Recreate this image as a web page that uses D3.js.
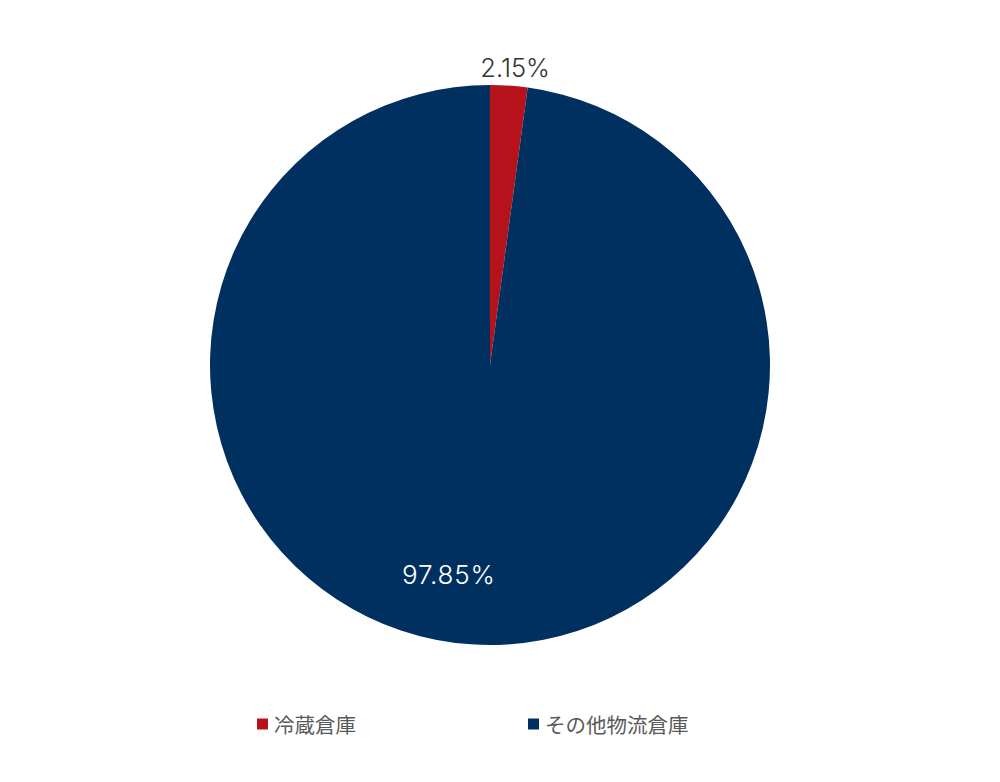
<!DOCTYPE html>
<html lang="ja">
<head>
    <meta charset="UTF-8">
    <title>冷蔵倉庫の割合</title>
    <script src="https://d3js.org/d3.v7.min.js"></script>
    <style>
        body { margin: 0; background: #fff; }
    </style>
</head>
<body>
    <div id="chart"></div>
    <script>
        // Data
        const categories = ['冷蔵倉庫', 'その他物流倉庫'];
        const values = [2.15, 97.85];
        const colors = ['#B5121B', '#00305F'];
        const labels = ['2.15%', '97.85%'];

        const width = 1000, height = 782;
        const cx = 490, cy = 365, radius = 280;

        const svg = d3.select('#chart')
            .append('svg')
            .attr('width', width)
            .attr('height', height);

        const data = categories.map((c, i) => ({ name: c, value: values[i], color: colors[i], label: labels[i] }));

        const pie = d3.pie()
            .value(d => d.value)
            .sort(null);

        const arc = d3.arc()
            .innerRadius(0)
            .outerRadius(radius);

        const arcs = pie(data);

        const g = svg.append('g')
            .attr('transform', `translate(${cx},${cy})`);

        g.selectAll('path')
            .data(arcs)
            .enter()
            .append('path')
            .attr('d', arc)
            .attr('fill', d => d.data.color);

        // small slice: label outside, big slice: inside
        const outerArc = d3.arc().innerRadius(298).outerRadius(298);
        const innerArc = d3.arc().innerRadius(210).outerRadius(210);

        g.selectAll('text.pct')
            .data(arcs)
            .enter()
            .append('text')
            .attr('class', 'pct')
            .attr('transform', (d, i) => {
                const p = i === 0 ? outerArc.centroid(d) : innerArc.centroid(d);
                const dx = i === 0 ? 5 : -27;
                return `translate(${p[0] + dx},${p[1]})`;
            })
            .attr('text-anchor', 'middle')
            .attr('dominant-baseline', 'central')
            .attr('font-family', 'Inter, Lato, sans-serif')
            .attr('font-weight', 300)
            .attr('font-size', (d, i) => i === 0 ? 25.5 : 26)
            .attr('letter-spacing', (d, i) => i === 0 ? 0 : 0.8)
            .attr('fill', (d, i) => i === 0 ? '#333333' : '#ffffff')
            .text(d => d.data.label);

        // Legend
        const legendX = d3.scalePoint()
            .domain(categories)
            .range([257, 528]);

        const legend = svg.append('g')
            .selectAll('g')
            .data(data)
            .enter()
            .append('g')
            .attr('transform', d => `translate(${legendX(d.name)},724)`);

        legend.append('rect')
            .attr('x', 0)
            .attr('y', -5.5)
            .attr('width', 11)
            .attr('height', 11)
            .attr('fill', d => d.color);

        legend.append('text')
            .attr('x', 17)
            .attr('y', 0)
            .attr('dominant-baseline', 'central')
            .attr('font-family', '"Noto Sans CJK JP", sans-serif')
            .attr('font-size', 20.5)
            .attr('fill', '#595959')
            .text(d => d.name);
    </script>
</body>
</html>
